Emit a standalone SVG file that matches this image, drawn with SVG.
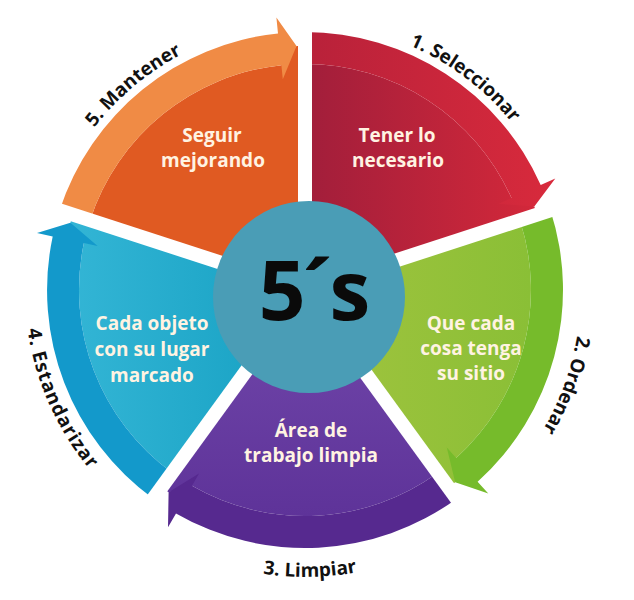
<svg xmlns="http://www.w3.org/2000/svg" width="634" height="600" viewBox="0 0 634 600">
<style>
.in{font-family:"Open Sans","Liberation Sans",sans-serif;font-weight:700;font-size:19px;fill:#FFF3E2;text-anchor:middle}
.out{font-family:"Open Sans","Liberation Sans",sans-serif;font-weight:700;font-size:19px;fill:#111;text-anchor:middle}
.gap{stroke:#fff;stroke-width:14;stroke-linecap:butt}
</style>
<defs>
<linearGradient id="gRed" x1="0" y1="0" x2="1" y2="0"><stop offset="0" stop-color="#A11E3B"/><stop offset="1" stop-color="#D3283A"/></linearGradient>
<linearGradient id="gRedBand" x1="0" y1="0" x2="1" y2="0"><stop offset="0" stop-color="#B8213A"/><stop offset="1" stop-color="#D82A3C"/></linearGradient>
<linearGradient id="gGreen" x1="0" y1="0" x2="1" y2="0"><stop offset="0" stop-color="#A2C43F"/><stop offset="1" stop-color="#8ABF36"/></linearGradient>
<linearGradient id="gPurple" x1="0" y1="0" x2="0" y2="1"><stop offset="0" stop-color="#7248AB"/><stop offset="1" stop-color="#5E3399"/></linearGradient>
<linearGradient id="gBlue" x1="0" y1="0" x2="1" y2="0"><stop offset="0" stop-color="#33B5D5"/><stop offset="1" stop-color="#15A0C2"/></linearGradient>
<path id="pTop" d="M39,290 A266,266 0 0 1 571,290"/>
<path id="pRight" d="M443,51 A276,276 0 0 1 305,566"/>
<path id="pLeft" d="M75.6,129.4 A280,280 0 0 0 503,488"/>
<path id="pBottom" d="M56.5,433.5 A287,287 0 0 0 553.5,433.5"/>
</defs>
<rect width="634" height="600" fill="#fff"/>

<g id="seleccionar">
<path d="M305,290 L305,64 A226,226 0 0 1 511.5,198.1 L534.3,206.6 L537.1,214.6 Z" fill="url(#gRed)"/>
<text class="in" x="397" y="142">Tener lo</text>
<text class="in" x="398" y="167">necesario</text>
<text class="out"><textPath href="#pTop" startOffset="589.6">1. Seleccionar</textPath></text>
</g>

<g id="ordenar">
<path d="M305,290 L519.9,220.2 A226,226 0 0 1 456.2,457.9 L455.2,482.3 L448.4,487.4 Z" fill="url(#gGreen)"/>
<text class="in" x="471" y="330">Que cada</text>
<text class="in" x="471" y="355">cosa tenga</text>
<text class="in" x="471" y="380">su sitio</text>
<text class="out"><textPath href="#pRight" startOffset="385.4">2. Ordenar</textPath></text>
</g>

<g id="limpiar">
<path d="M305,290 L437.8,472.8 A226,226 0 0 1 192.0,485.7 L168.6,492.3 L161.6,487.4 Z" fill="url(#gPurple)"/>
<text class="in" x="311" y="437">Área de</text>
<text class="in" x="311" y="462">trabajo limpia</text>
<text class="out"><textPath href="#pBottom" startOffset="305.5">3. Limpiar</textPath></text>
</g>

<g id="estandarizar">
<path d="M305,290 L172.2,472.8 A226,226 0 0 1 83.9,243.0 L70.4,222.8 L72.9,214.6 Z" fill="url(#gBlue)"/>
<text class="in" x="152" y="330">Cada objeto</text>
<text class="in" x="152" y="356">con su lugar</text>
<text class="in" x="152" y="382">marcado</text>
<text class="out" letter-spacing="1"><textPath href="#pLeft" startOffset="288.3">4. Estandarizar</textPath></text>
</g>

<g id="mantener">
<path d="M305,290 L90.1,220.2 A226,226 0 0 1 281.4,65.2 L296.5,46.1 L305,46 Z" fill="#E05A22"/>
<text class="in" x="212" y="142">Seguir</text>
<text class="in" x="213" y="167">mejorando</text>
<text class="out"><textPath href="#pTop" startOffset="232.1">5. Mantener</textPath></text>
</g>

<g id="connectors">
<path d="M305,32 A258,258 0 0 1 540.7,185.1 L555.3,178.6 L534.3,206.6 L498.7,203.8 L511.5,198.1 A226,226 0 0 0 305,64 Z" fill="url(#gRedBand)"/>
<path d="M550.4,210.3 A258,258 0 0 1 477.6,481.7 L488.3,493.6 L455.2,482.3 L446.8,447.5 L456.2,457.9 A226,226 0 0 0 519.9,220.2 Z" fill="#76BB2B"/>
<path d="M456.7,498.7 A258,258 0 0 1 176.0,513.4 L168.0,527.3 L168.6,492.3 L199.0,473.6 L192.0,485.7 A226,226 0 0 0 437.8,472.8 Z" fill="#56298F"/>
<path d="M153.3,498.7 A258,258 0 0 1 52.7,236.4 L37.0,233.0 L70.4,222.8 L97.6,245.9 L83.9,243.0 A226,226 0 0 0 172.2,472.8 Z" fill="#1399CB"/>
<path d="M59.6,210.3 A258,258 0 0 1 278.0,33.4 L276.4,17.5 L296.5,46.1 L282.8,79.2 L281.4,65.2 A226,226 0 0 0 90.1,220.2 Z" fill="#F08B45"/>
</g>

<g id="separators">
<line class="gap" x1="305" y1="290" x2="305" y2="8"/>
<line class="gap" x1="305" y1="290" x2="573.2" y2="202.9"/>
<line class="gap" x1="305" y1="290" x2="470.8" y2="518.1"/>
<line class="gap" x1="305" y1="290" x2="139.2" y2="518.1"/>
<line class="gap" x1="305" y1="290" x2="36.8" y2="202.9"/>
</g>

<g id="centro">
<circle cx="309" cy="297" r="96" fill="#4A9DB6"/>
<text x="313" y="320" font-family="'Open Sans','Liberation Sans',sans-serif" font-weight="700" font-size="82" fill="#0A0A0A" text-anchor="middle" letter-spacing="-3">5´s</text>
</g>
</svg>
